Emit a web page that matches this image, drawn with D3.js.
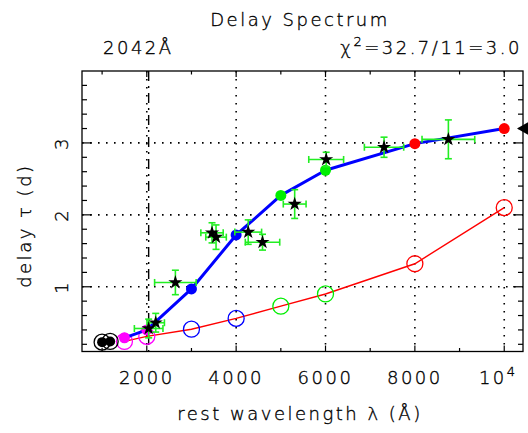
<!DOCTYPE html>
<html>
<head>
<meta charset="utf-8">
<script src="https://cdn.jsdelivr.net/npm/d3@7"></script>
<style>
  body { margin: 0; background: #fff; }
  text { font-family: "DejaVu Sans", sans-serif; font-weight: 200; font-size: 18px; letter-spacing: 2.5px;
         fill: #000; stroke: #000; stroke-width: 0.35px; }
</style>
</head>
<body>
<div id="chart"></div>
<script>
const WIDTH = 528, HEIGHT = 433
const FRAME = { left: 82, right: 523, top: 71, bottom: 351.5 }

// model points (filled dots on the blue curve, open circles on the red curve)
const WAVE       = [1500, 2000, 3000, 4000, 5000, 6000, 8000, 10000]
const DOT_COLORS = ['#ff00ff', '#ff00ff', '#0000ff', '#0000ff', '#00ee00', '#00ee00', '#ff0000', '#ff0000']
const MODEL_TAU  = [0.29, 0.40, 0.97, 1.72, 2.27, 2.62, 2.99, 3.20]
const DISK_TAU   = [0.24, 0.31, 0.41, 0.56, 0.73, 0.90, 1.32, 2.10]

// far-UV points (black)
const FUV_WAVE  = [1000, 1180]
const FUV_MODEL = [0.23, 0.24]
const FUV_DISK  = [0.23, 0.24]

// measured lags (stars with green error bars)
const OBS_WAVE = [2042, 2200, 2640, 3460, 3550, 4270, 4590, 5310, 6015, 7310, 8750]
const OBS_TAU  = [0.42, 0.50, 1.06, 1.75, 1.69, 1.76, 1.62, 2.15, 2.77, 2.94, 3.05]
const OBS_WERR = [320, 195, 465, 250, 230, 300, 385, 255, 390, 440, 590]
const OBS_TERR = [0.13, 0.13, 0.17, 0.14, 0.17, 0.17, 0.11, 0.20, 0.10, 0.14, 0.27]

const X_TICKS  = [2000, 4000, 6000, 8000, 10000]
const X_LABELS = ['2000', '4000', '6000', '8000', '10']
const Y_TICKS  = [1, 2, 3]
const REF_WAVE = 2042
const EDGE_TAU = 3.2

const svg = d3.select('#chart').append('svg')
  .attr('width', WIDTH).attr('height', HEIGHT)

const x = d3.scaleLinear().domain([550, 10420]).range([FRAME.left, FRAME.right])
const y = d3.scaleLinear().domain([0.1, 4.0]).range([FRAME.bottom, FRAME.top])

// ── grid ─────────────────────────────────────────────────────
const gGrid = svg.append('g')
X_TICKS.forEach(t => {
  gGrid.append('line')
    .attr('x1', x(t)).attr('x2', x(t)).attr('y1', FRAME.top).attr('y2', FRAME.bottom)
    .attr('stroke', '#000').attr('stroke-width', 1.6).attr('stroke-dasharray', '1.6 6.4')
})
Y_TICKS.forEach(t => {
  gGrid.append('line')
    .attr('x1', FRAME.left).attr('x2', FRAME.right).attr('y1', y(t)).attr('y2', y(t))
    .attr('stroke', '#000').attr('stroke-width', 1.6).attr('stroke-dasharray', '1.6 6.4')
})
gGrid.append('line')
  .attr('x1', x(REF_WAVE)).attr('x2', x(REF_WAVE)).attr('y1', FRAME.top).attr('y2', FRAME.bottom)
  .attr('stroke', '#000').attr('stroke-width', 1.4).attr('stroke-dasharray', '10 5 2 5')

// ── curves ───────────────────────────────────────────────────
const line = d3.line().x(d => x(d[0])).y(d => y(d[1]))

svg.append('path')
  .attr('d', line(WAVE.map((w, i) => [w, DISK_TAU[i]])))
  .attr('fill', 'none').attr('stroke', '#ff0000').attr('stroke-width', 1.4)

WAVE.forEach((w, i) => {
  svg.append('circle')
    .attr('cx', x(w)).attr('cy', y(DISK_TAU[i])).attr('r', 8)
    .attr('fill', 'none').attr('stroke', DOT_COLORS[i]).attr('stroke-width', 1.3)
})
FUV_WAVE.forEach((w, i) => {
  svg.append('circle')
    .attr('cx', x(w)).attr('cy', y(FUV_DISK[i])).attr('r', 8)
    .attr('fill', 'none').attr('stroke', '#000').attr('stroke-width', 1.3)
})

svg.append('path')
  .attr('d', line(WAVE.map((w, i) => [w, MODEL_TAU[i]])))
  .attr('fill', 'none').attr('stroke', '#0000ff').attr('stroke-width', 3)
  .attr('stroke-linejoin', 'round')

WAVE.forEach((w, i) => {
  svg.append('circle')
    .attr('cx', x(w)).attr('cy', y(MODEL_TAU[i])).attr('r', 5.5)
    .attr('fill', DOT_COLORS[i])
})
FUV_WAVE.forEach((w, i) => {
  svg.append('circle')
    .attr('cx', x(w)).attr('cy', y(FUV_MODEL[i])).attr('r', 5)
    .attr('fill', '#000')
})

// ── measured lags ────────────────────────────────────────────
const gErr = svg.append('g').attr('stroke', '#22ee22').attr('stroke-width', 1.6)
const CAP = 3.5
OBS_WAVE.forEach((w, i) => {
  const cx = x(w), cy = y(OBS_TAU[i])
  const x0 = x(w - OBS_WERR[i]), x1 = x(w + OBS_WERR[i])
  const y0 = y(OBS_TAU[i] - OBS_TERR[i]), y1 = y(OBS_TAU[i] + OBS_TERR[i])
  gErr.append('line').attr('x1', x0).attr('x2', x1).attr('y1', cy).attr('y2', cy)
  gErr.append('line').attr('x1', x0).attr('x2', x0).attr('y1', cy - CAP).attr('y2', cy + CAP)
  gErr.append('line').attr('x1', x1).attr('x2', x1).attr('y1', cy - CAP).attr('y2', cy + CAP)
  gErr.append('line').attr('x1', cx).attr('x2', cx).attr('y1', y0).attr('y2', y1)
  gErr.append('line').attr('x1', cx - CAP).attr('x2', cx + CAP).attr('y1', y0).attr('y2', y0)
  gErr.append('line').attr('x1', cx - CAP).attr('x2', cx + CAP).attr('y1', y1).attr('y2', y1)
})
const star = d3.symbol().type(d3.symbolStar).size(62)
OBS_WAVE.forEach((w, i) => {
  svg.append('path')
    .attr('d', star())
    .attr('transform', `translate(${x(w)},${y(OBS_TAU[i])})`)
    .attr('fill', '#000')
})

// ── frame + ticks ────────────────────────────────────────────
svg.append('rect')
  .attr('x', FRAME.left).attr('y', FRAME.top)
  .attr('width', FRAME.right - FRAME.left).attr('height', FRAME.bottom - FRAME.top)
  .attr('fill', 'none').attr('stroke', '#000').attr('stroke-width', 1.3)

const gTicks = svg.append('g').attr('stroke', '#000').attr('stroke-width', 1.2)
d3.range(1000, 10001, 1000).forEach(t => {
  const len = t % 2000 === 0 ? 6 : 3.5
  gTicks.append('line').attr('x1', x(t)).attr('x2', x(t)).attr('y1', FRAME.bottom).attr('y2', FRAME.bottom - len)
  gTicks.append('line').attr('x1', x(t)).attr('x2', x(t)).attr('y1', FRAME.top).attr('y2', FRAME.top + len)
})
d3.range(2, 40, 2).map(v => v / 10).forEach(t => {
  const len = Math.abs(t - Math.round(t)) < 1e-6 ? 10 : 5
  gTicks.append('line').attr('x1', FRAME.left).attr('x2', FRAME.left + len).attr('y1', y(t)).attr('y2', y(t))
  gTicks.append('line').attr('x1', FRAME.right).attr('x2', FRAME.right - len).attr('y1', y(t)).attr('y2', y(t))
})

// marker at the right edge
svg.append('path')
  .attr('d', `M0,0 L14,-8 L14,8 Z`)
  .attr('transform', `translate(${FRAME.right - 6},${y(EDGE_TAU)})`)
  .attr('fill', '#000')

// ── labels ───────────────────────────────────────────────────
X_TICKS.forEach((t, i) => {
  const txt = svg.append('text')
    .attr('x', x(t)).attr('y', 384).attr('text-anchor', 'middle')
    .text(X_LABELS[i])
  if (t === 10000) {
    txt.attr('x', x(t) - 6)
    txt.append('tspan').attr('dy', -8).style('font-size', '13px').text('4')
  }
})
Y_TICKS.forEach(t => {
  svg.append('text')
    .attr('transform', `translate(68,${y(t)}) rotate(-90)`)
    .attr('text-anchor', 'middle')
    .text(t)
})

svg.append('text').attr('x', 300).attr('y', 420).attr('text-anchor', 'middle')
  .text('rest wavelength λ (Å)')
svg.append('text').attr('transform', `translate(31,${y(1.85)}) rotate(-90)`).attr('text-anchor', 'middle')
  .text('delay τ (d)')

svg.append('text').attr('x', 300).attr('y', 26).attr('text-anchor', 'middle')
  .text('Delay Spectrum')
svg.append('text').attr('x', 103).attr('y', 54).text(REF_WAVE + 'Å')

const chi = svg.append('text').attr('x', 522).attr('y', 54).attr('text-anchor', 'end')
chi.append('tspan').text('χ')
chi.append('tspan').attr('dy', -8).style('font-size', '13px').text('2')
chi.append('tspan').attr('dy', 8).text('=32.7/11=3.0')
</script>
</body>
</html>
